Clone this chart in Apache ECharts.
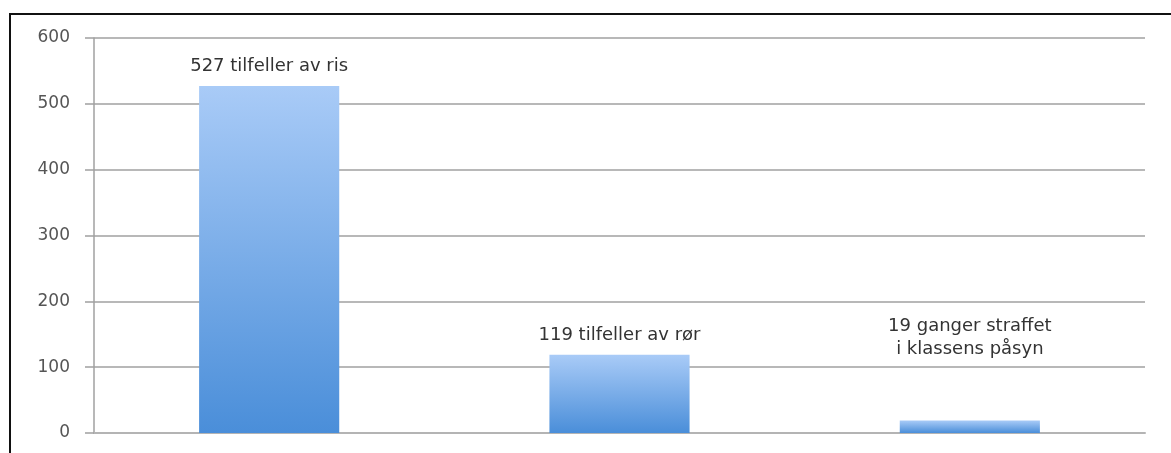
<!DOCTYPE html>
<html>
<head>
<meta charset="utf-8">
<script src="https://cdn.jsdelivr.net/npm/echarts@6/dist/echarts.min.js"></script>
<style>
    html, body {margin: 0; padding: 0; background: #fff;}
    #frame {
        position: absolute;
        left: 9px;
        top: 13px;
        width: 1162px;
        height: 440px;
        border-top: 2px solid #111;
        border-left: 2px solid #111;
    }
    #chart {position: absolute; left: 0; top: 0; width: 1171px; height: 453px;}
</style>
</head>
<body>
<div id="frame"></div>
<div id="chart"></div>
<script>
const categories = ['ris', 'rør', 'påsyn']
const values = [527, 119, 19]
const bar_labels = [
    '527 tilfeller av ris',
    '119 tilfeller av rør',
    '19 ganger straffet\ni klassens påsyn',
]
const y_ticks = [0, 100, 200, 300, 400, 500, 600]

const chart = echarts.init(document.getElementById('chart'))

chart.setOption({
    animation: false,
    grid: {
        left: 94,
        right: 26,
        top: 38,
        bottom: 20,
    },
    xAxis: {
        type: 'category',
        data: categories,
        axisTick: {show: false},
        axisLabel: {show: false},
        axisLine: {
            lineStyle: {color: '#b4b4b4', width: 2},
        },
    },
    yAxis: {
        type: 'value',
        min: y_ticks[0],
        max: y_ticks[y_ticks.length - 1],
        interval: 100,
        axisLine: {
            show: true,
            lineStyle: {color: '#a0a0a0', width: 1.5},
        },
        axisTick: {
            show: true,
            length: 9,
            lineStyle: {color: '#a0a0a0', width: 1.5},
        },
        axisLabel: {
            margin: 24,
            color: '#555',
            fontFamily: 'DejaVu Sans',
            fontSize: 17,
        },
        splitLine: {
            lineStyle: {color: '#a0a0a0', width: 1.5},
        },
    },
    series: [
        {
            type: 'bar',
            barWidth: '40%',
            data: values.map((v, i) => ({
                value: v,
                label: i === 2 ? {distance: 60} : {distance: 8},
            })),
            itemStyle: {
                color: new echarts.graphic.LinearGradient(0, 0, 0, 1, [
                    {offset: 0, color: '#a9cbf7'},
                    {offset: 1, color: '#4a8ed9'},
                ]),
            },
            label: {
                show: true,
                position: 'top',
                formatter: p => bar_labels[p.dataIndex],
                color: '#333',
                fontFamily: 'DejaVu Sans',
                fontSize: 18,
                lineHeight: 23,
                align: 'center',
            },
        },
    ],
})
</script>
</body>
</html>
